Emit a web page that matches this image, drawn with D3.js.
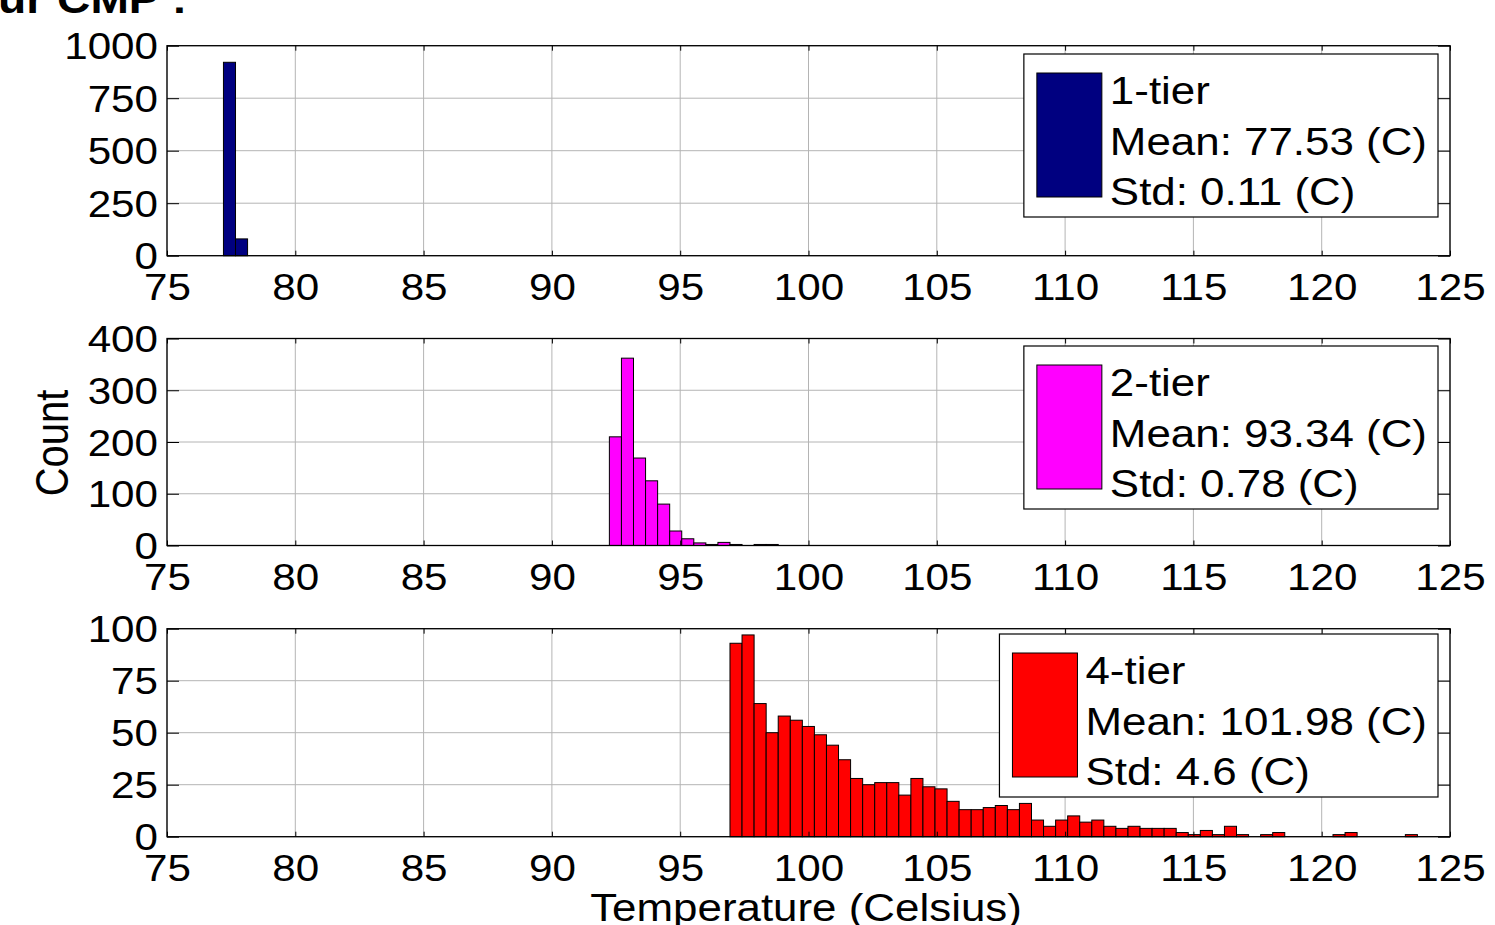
<!DOCTYPE html>
<html><head><meta charset="utf-8">
<script src="https://cdn.jsdelivr.net/npm/d3@7"></script>
<style>body{margin:0;background:#fff}svg{display:block}</style>
</head><body>
<script>
// ---------------- data ----------------
const xTickValues = [75, 80, 85, 90, 95, 100, 105, 110, 115, 120, 125];
const binStart = 77.2;   // left edge of first histogram bin (Celsius)
const binWidth = 0.47;   // histogram bin width (Celsius)
const tierNames = ["1-tier", "2-tier", "4-tier"];
const tierMeans = ["77.53", "93.34", "101.98"];
const tierStds = ["0.11", "0.78", "4.6"];
const tierFirstBin = [0, 32, 42];
const tier1Counts = [921, 80];
const tier2Counts = [210, 362, 169, 125, 80, 28, 13, 5, 2, 6, 2, 0, 2, 2];
const tier4Counts = [93, 97, 64, 50, 58, 56, 53, 49, 44, 37, 28, 25, 26, 26, 20, 28, 24, 23, 17, 13,
                     13, 14, 15, 13, 16, 8, 5, 8, 10, 7, 8, 5, 4, 5, 4, 4, 4, 2, 1, 3,
                     1, 5, 1, 0, 1, 2, 0, 0, 0, 0, 1, 2, 0, 0, 0, 0, 1];
const yTicks1 = [0, 250, 500, 750, 1000];
const yTicks2 = [0, 100, 200, 300, 400];
const yTicks3 = [0, 25, 50, 75, 100];
const titleText = "ur CMP :";
const yLabel = "Count";
const xLabel = "Temperature (Celsius)";

// ---------------- layout / style ----------------
const W = 1495, H = 925;
const SX = 1.155; // horizontal glyph stretch of the original figure
const FONT = "'Liberation Sans', Arial, Helvetica, sans-serif";
const colors = ["#000080", "#ff00ff", "#ff0000"];
const series = [tier1Counts, tier2Counts, tier4Counts];
const yTicksAll = [yTicks1, yTicks2, yTicks3];
const frames = [{top: 45.7, bottom: 255.7}, {top: 338.5, bottom: 545.5}, {top: 628.7, bottom: 836.7}];
const legendTops = [54, 346, 634];

const svg = d3.select("body").append("svg").attr("width", W).attr("height", H)
  .style("font-family", FONT);
svg.append("rect").attr("width", W).attr("height", H).attr("fill", "#fff");

const x = d3.scaleLinear().domain([75, 125]).range([167, 1450]);

frames.forEach((f, i) => {
  const yt = yTicksAll[i];
  const y = d3.scaleLinear().domain([0, d3.max(yt)]).range([f.bottom, f.top]);
  const g = svg.append("g");

  // grid
  g.append("g").selectAll("line").data(xTickValues).join("line")
    .attr("x1", d => x(d)).attr("x2", d => x(d))
    .attr("y1", f.top).attr("y2", f.bottom)
    .attr("stroke", "#b4b4b4").attr("stroke-width", 1);
  g.append("g").selectAll("line").data(yt).join("line")
    .attr("x1", x(75)).attr("x2", x(125))
    .attr("y1", d => y(d)).attr("y2", d => y(d))
    .attr("stroke", "#b4b4b4").attr("stroke-width", 1);

  // bars
  const bins = series[i].map((c, j) => ({x0: binStart + (tierFirstBin[i] + j) * binWidth, c}))
    .filter(d => d.c > 0);
  g.append("g").selectAll("rect").data(bins).join("rect")
    .attr("x", d => x(d.x0))
    .attr("width", d => x(d.x0 + binWidth) - x(d.x0))
    .attr("y", d => y(d.c))
    .attr("height", d => y(0) - y(d.c))
    .attr("fill", colors[i]).attr("stroke", "#000").attr("stroke-width", 1);

  // axes
  const ax = [];
  ax.push(g.append("g").attr("transform", `translate(0,${f.bottom})`)
    .call(d3.axisBottom(x).tickValues(xTickValues).tickSize(-5).tickSizeOuter(0).tickFormat(d3.format("d"))));
  ax.push(g.append("g").attr("transform", `translate(0,${f.top})`)
    .call(d3.axisTop(x).tickValues(xTickValues).tickSize(-5).tickSizeOuter(0).tickFormat("")));
  ax.push(g.append("g").attr("transform", `translate(${x(75)},0)`)
    .call(d3.axisLeft(y).tickValues(yt).tickSize(-12).tickSizeOuter(0).tickFormat(d3.format("d"))));
  ax.push(g.append("g").attr("transform", `translate(${x(125)},0)`)
    .call(d3.axisRight(y).tickValues(yt).tickSize(-12).tickSizeOuter(0).tickFormat("")));
  ax.forEach(a => {
    a.select(".domain").remove();
    a.attr("font-family", FONT).attr("font-size", 36.5);
    a.selectAll(".tick line").attr("stroke", "#000").attr("stroke-width", 1);
    a.selectAll(".tick text").attr("fill", "#000");
  });
  ax[0].selectAll(".tick text").attr("y", 0).attr("dy", 0)
    .attr("transform", `translate(0,44) scale(${SX},1)`);
  ax[2].selectAll(".tick text").attr("x", 0).attr("dy", 0)
    .attr("transform", `translate(-9,13) scale(${SX},1)`);

  // box
  g.append("rect").attr("x", x(75)).attr("y", f.top)
    .attr("width", x(125) - x(75)).attr("height", f.bottom - f.top)
    .attr("fill", "none").attr("stroke", "#000").attr("stroke-width", 1.3);

  // legend
  const t = legendTops[i];
  const lg = svg.append("g");
  const box = lg.append("rect").attr("fill", "#fff").attr("stroke", "#000").attr("stroke-width", 1.2);
  const patch = lg.append("rect").attr("fill", colors[i]).attr("stroke", "#000").attr("stroke-width", 1);
  const lines = [tierNames[i], `Mean: ${tierMeans[i]} (C)`, `Std: ${tierStds[i]} (C)`];
  const txt = lg.selectAll("text.l").data(lines).join("text").attr("class", "l")
    .text(d => d).attr("font-size", 38).attr("fill", "#000");
  const tw = d3.max(txt.nodes(), n => n.getComputedTextLength()) * SX;
  const bw = 87 + tw + 10;
  const bx = 1438 - bw;
  box.attr("x", bx).attr("y", t).attr("width", bw).attr("height", 163);
  patch.attr("x", bx + 13).attr("y", t + 19).attr("width", 65).attr("height", 124);
  txt.attr("transform", (d, k) => `translate(${bx + 86},${t + 50 + k * 50.5}) scale(${SX},1)`);
});

// y label
svg.append("text").text(yLabel)
  .attr("font-size", 40).attr("text-anchor", "middle").attr("fill", "#000")
  .attr("transform", `translate(68,443) scale(${SX},1) rotate(-90)`);

// x label
svg.append("text").text(xLabel)
  .attr("font-size", 38).attr("text-anchor", "middle").attr("fill", "#000")
  .attr("transform", `translate(806,921) scale(${SX},1)`);

// partially visible title
svg.append("text").text(titleText)
  .attr("font-size", 40).attr("font-weight", "bold").attr("fill", "#000")
  .attr("transform", `translate(-2,13) scale(${SX},1)`);
</script>
</body></html>
